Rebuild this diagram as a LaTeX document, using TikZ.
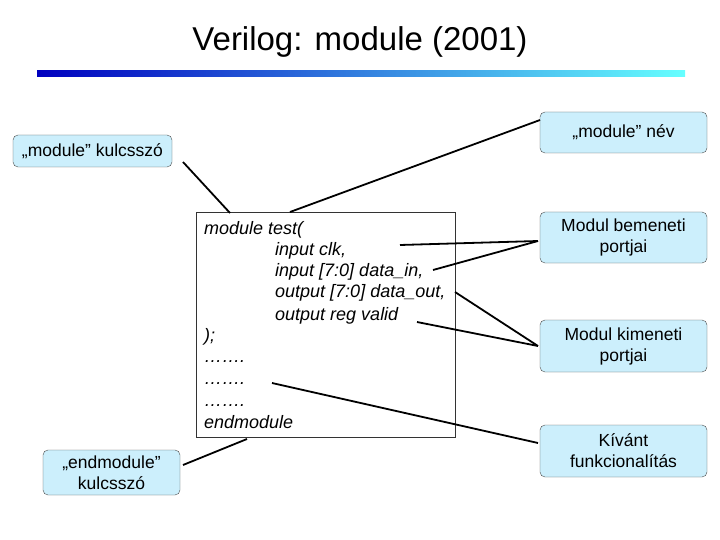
\documentclass[tikz,border=0pt]{standalone}
\usepackage{fontspec}
\setmainfont{Liberation Sans}
\begin{document}
\begin{tikzpicture}[x=1pt,y=-1pt,
 lbl/.style={draw=black!70,fill=cyan!20,rounded corners=5pt,align=center,font=\fontsize{17.5}{21}\selectfont,inner sep=0pt},
 con/.style={line width=1.8pt},
 code/.style={anchor=base west,font=\fontsize{18}{20}\selectfont\itshape,inner sep=0pt}]
\useasboundingbox (0,0) rectangle (720,540);
\node[font=\fontsize{33}{36}\selectfont] (title) at (360,42) {Verilog: module (2001)};
\shade[left color=blue!75!black, right color=cyan!60] (37,71) rectangle (685,77);
\node[draw=black!80,minimum width=259,minimum height=225,anchor=north west,inner sep=0pt] (code) at (196,212) {};
\node[code] (c1) at (204,234) {module test(};
\node[code] (c2) at (275,255) {input clk,};
\node[code] (c3) at (275,276) {input [7:0] data\_in,};
\node[code] (c4) at (275,297) {output [7:0] data\_out,};
\node[code] (c5) at (275,320) {output reg valid};
\node[code] (c6) at (204,341) {);};
\node[code] (c7) at (204,362) {…….};
\node[code] (c8) at (204,384) {…….};
\node[code] (c9) at (204,406) {…….};
\node[code] (c10) at (204,428) {endmodule};
\node[lbl,minimum width=159,minimum height=32] (kw) at (92.5,151) {„module” kulcsszó};
\node[lbl,minimum width=167,minimum height=41] (nev) at (623.5,132.5) {„module” név};
\node[lbl,minimum width=167,minimum height=51] (be) at (623.5,237.5) {Modul bemeneti\\portjai};
\node[lbl,minimum width=167,minimum height=52] (ki) at (623.5,346) {Modul kimeneti\\portjai};
\node[lbl,minimum width=167,minimum height=52] (fn) at (623.5,451) {Kívánt\\funkcionalítás};
\node[lbl,minimum width=137,minimum height=45] (ekw) at (111.5,472.5) {„endmodule”\\kulcsszó};
\coordinate (p1) at (230,213);
\coordinate (p2) at (290,212);
\coordinate (p3) at (400,245);
\coordinate (p4) at (433,270);
\coordinate (p5) at (455,292);
\coordinate (p6) at (417,322);
\coordinate (p7) at (272,383);
\coordinate (p8) at (247,439);
\draw[con] (183,162) -- (p1);
\draw[con] (540,120) -- (p2);
\draw[con] (538,241) -- (p3);
\draw[con] (538,241) -- (p4);
\draw[con] (538,346) -- (p5);
\draw[con] (538,346) -- (p6);
\draw[con] (538,443) -- (p7);
\draw[con] (183,465) -- (p8);
\end{tikzpicture}
\end{document}
